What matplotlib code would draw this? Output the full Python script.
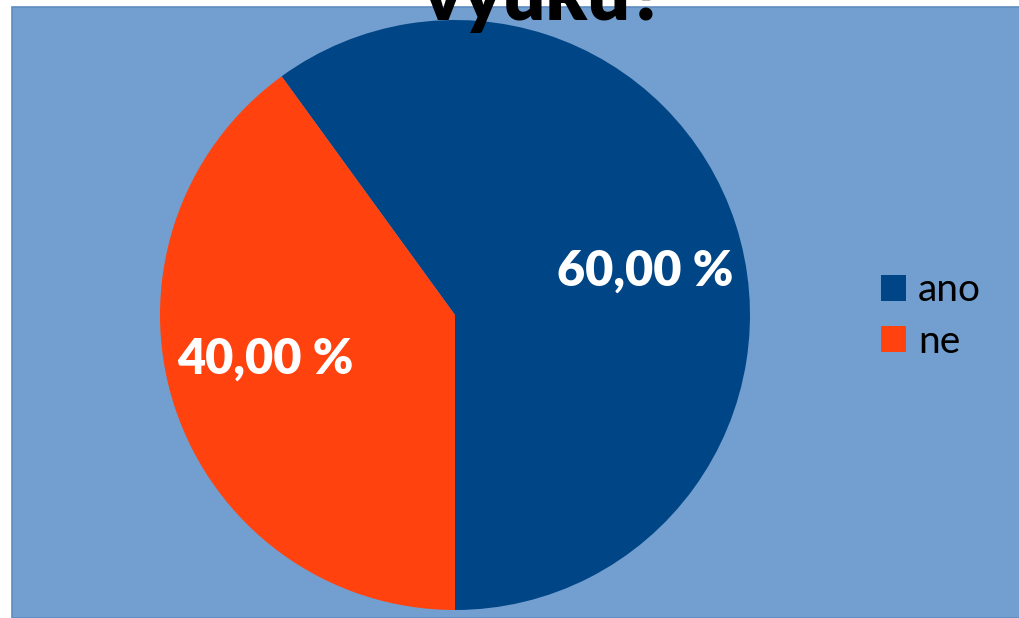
import numpy as np
import matplotlib.pyplot as plt
from matplotlib.patches import Rectangle

plt.rcParams['font.family'] = ['Lato', 'DejaVu Sans']

labels = ['ano', 'ne']
values = [60, 40]
colors = ['#004586', '#ff420e']
title = 'výuku?'

fig = plt.figure(figsize=(10.2, 6.18), dpi=100)
fig.patch.set_facecolor('white')

# blue chart area
fig.patches.append(Rectangle((12 / 1020, 0), 1.0, 1 - 7 / 618, transform=fig.transFigure,
                             facecolor='#729fcf', edgecolor='#5f8cc0', linewidth=1.2, zorder=-5))

ax = fig.add_axes([160 / 1020, 8 / 618, 590 / 1020, 590 / 618])
wedges, texts, autotexts = ax.pie(values, colors=colors, startangle=-90, counterclock=True,
                                  autopct=lambda p: f'{p:.2f} %'.replace('.', ','),
                                  pctdistance=0.66,
                                  textprops=dict(color='white', fontsize=35, fontweight='heavy'))
ax.set_xlim(-1, 1)
ax.set_ylim(-1, 1)
ax.set_aspect('equal')
ax.patch.set_visible(False)

# nudge labels like the original (slightly rotated from slice middle)
rot = np.deg2rad(-5)
for t in autotexts:
    x, y = t.get_position()
    t.set_position((x * np.cos(rot) - y * np.sin(rot), x * np.sin(rot) + y * np.cos(rot)))

fig.text(544 / 1020, 1 - 20 / 618, title, ha='center', va='baseline',
         fontsize=54, fontweight='heavy', color='black')

leg = fig.legend(wedges, labels, loc='center left', bbox_to_anchor=(881 / 1020, 1 - 316 / 618),
                 frameon=False, fontsize=28, handlelength=0.65, handleheight=0.65,
                 handletextpad=0.3, labelspacing=0.4, borderpad=0, borderaxespad=0)

fig.savefig('out.png', dpi=100)
